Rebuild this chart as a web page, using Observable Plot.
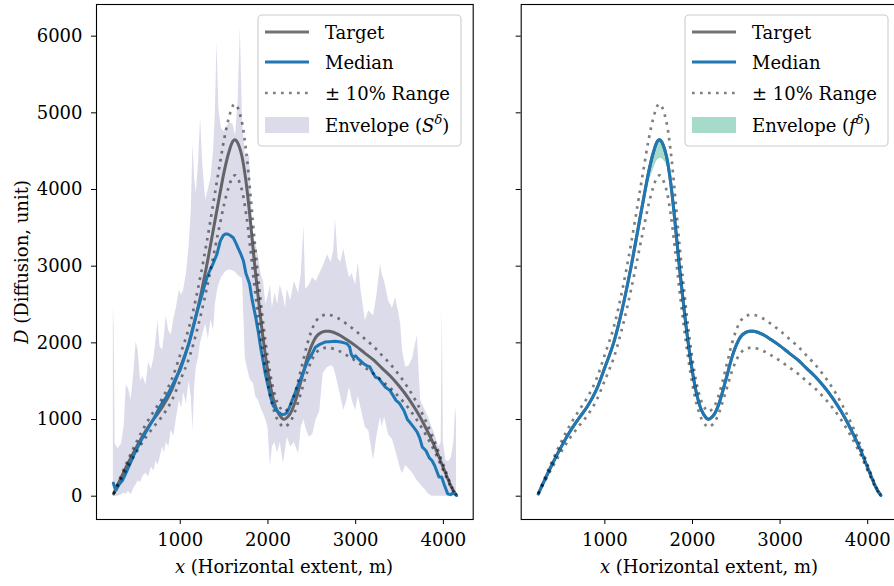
<!DOCTYPE html>
<html><head><meta charset="utf-8">
<script src="https://cdn.jsdelivr.net/npm/d3@7"></script>
<script src="https://cdn.jsdelivr.net/npm/@observablehq/plot@0.6"></script>
<style>
html,body{margin:0;padding:0;background:#fff;overflow:hidden;}
#wrap{position:relative;width:894px;height:586px;overflow:hidden;}
#wrap svg{position:absolute;top:0;}
</style></head><body><div id="wrap"></div>
<script>
const FONT = "'DejaVu Serif', 'Liberation Serif', 'Noto Serif', serif";
const FS = 18;
const xTicks = [1000, 2000, 3000, 4000];
const yTicks = [0, 1000, 2000, 3000, 4000, 5000, 6000];

const targetX = [240,300,400,500,600,700,800,900,1000,1100,1200,1300,1400,1450,1500,1550,1600,1625,1650,1700,1750,1800,1850,1900,1950,2000,2050,2100,2150,2175,2200,2250,2300,2350,2400,2450,2500,2550,2600,2650,2700,2800,2900,3000,3100,3200,3300,3400,3500,3600,3700,3800,3900,4000,4100,4150];
const targetY = [30,180,420,640,840,1010,1170,1380,1680,2000,2450,3000,3620,3930,4230,4470,4630,4650,4620,4450,4100,3580,3000,2480,2010,1620,1320,1130,1030,1005,1010,1070,1200,1390,1600,1810,1970,2080,2130,2150,2150,2110,2040,1960,1870,1780,1670,1560,1430,1280,1100,890,650,370,100,10];
const rangeUpperY = [33,198,462,704,924,1111,1287,1518,1848,2200,2695,3300,3982,4323,4653,4917,5093,5115,5082,4895,4510,3938,3300,2728,2211,1782,1452,1243,1133,1106,1111,1177,1320,1529,1760,1991,2167,2288,2343,2365,2365,2321,2244,2156,2057,1958,1837,1716,1573,1408,1210,979,715,407,110,11];
const rangeLowerY = [27,162,378,576,756,909,1053,1242,1512,1800,2205,2700,3258,3537,3807,4023,4167,4185,4158,4005,3690,3222,2700,2232,1809,1458,1188,1017,927,905,909,963,1080,1251,1440,1629,1773,1872,1917,1935,1935,1899,1836,1764,1683,1602,1503,1404,1287,1152,990,801,585,333,90,9];

const medianLeftX = [237,255,268,300,340,380,410,445,480,520,574,620,660,707,760,800,840,900,954,1000,1049,1100,1145,1190,1240,1270,1305,1340,1373,1419,1457,1490,1514,1540,1570,1605,1635,1662,1690,1720,1750,1790,1820,1860,1890,1916,1945,1970,2000,2030,2060,2085,2110,2140,2160,2190,2217,2245,2275,2310,2350,2390,2425,2460,2500,2540,2590,2650,2700,2770,2830,2870,2900,2930,2950,2970,3000,3030,3060,3100,3130,3160,3190,3227,3260,3300,3340,3390,3415,3460,3500,3550,3590,3620,3660,3700,3730,3760,3800,3840,3870,3900,3950,3980,4010,4050,4080,4110,4130,4150];
const medianLeftY = [170,110,80,150,205,300,380,466,560,650,770,860,940,1030,1150,1230,1290,1420,1552,1650,1813,2000,2204,2400,2595,2720,2856,2950,3030,3160,3330,3400,3420,3420,3400,3370,3300,3230,3160,3070,2900,2770,2560,2334,2140,1943,1760,1595,1440,1290,1180,1143,1100,1080,1065,1070,1090,1160,1248,1350,1470,1580,1682,1780,1850,1943,1980,2010,2015,2020,2010,2000,1990,1950,1850,1813,1830,1790,1760,1720,1700,1690,1620,1552,1540,1480,1420,1380,1335,1250,1210,1118,1000,960,900,840,760,640,596,500,466,400,250,250,150,30,20,40,30,10];

const envLeftX = [237,246,258,290,330,360,385,410,440,470,497,520,548,575,610,640,670,700,725,745,770,800,820,840,870,897,925,955,990,1015,1040,1070,1100,1125,1145,1163,1183,1208,1232,1255,1290,1320,1350,1380,1400,1419,1440,1470,1500,1530,1560,1600,1630,1660,1685,1710,1742,1770,1790,1810,1835,1860,1890,1920,1950,1975,2000,2028,2050,2080,2110,2140,2177,2200,2220,2260,2300,2350,2380,2410,2430,2470,2510,2550,2590,2630,2680,2720,2750,2770,2800,2830,2865,2900,2930,2960,3000,3030,3060,3110,3150,3204,3240,3284,3300,3330,3375,3420,3455,3490,3513,3535,3570,3610,3650,3703,3741,3780,3830,3870,3900,3950,3975,3988,4000,4030,4060,4090,4120,4140,4150];
const envLeftLo = [0,0,0,0,20,40,30,60,20,100,150,200,180,260,300,250,380,330,460,400,500,640,560,700,640,860,780,1000,1250,1150,1350,1200,1500,1300,860,1400,1680,1800,2000,2100,2250,2050,2300,2160,2500,2640,2750,2850,2900,2940,2950,2940,2920,2880,2860,2840,1800,1650,1550,1500,1470,1300,1250,1150,1075,1000,900,380,640,700,560,700,420,600,770,640,700,553,900,1000,900,770,800,1000,1100,1600,1680,1700,1680,1600,1450,1300,1118,1250,1420,1250,1118,1300,1150,900,850,466,770,1030,900,1030,800,740,600,450,350,292,400,350,300,200,150,100,30,0,0,0,0,0,0,0,0,0,0,0,0];
const envLeftHi = [2490,2200,680,620,680,900,1450,1400,1250,1600,2010,1900,1500,1560,1450,1750,1650,1800,2050,2290,1950,1900,2100,2350,2150,2100,2300,2450,2690,2620,2700,2900,3250,3700,4600,4150,3950,4350,4930,4350,3860,4000,4150,4500,5000,5920,5050,4800,4750,4820,4870,4850,4700,5150,6110,4900,4450,4420,4450,3900,3400,3300,3150,2900,2800,2500,2600,2750,2450,2650,2500,2750,2600,2450,2700,2550,2800,2650,2900,3530,2700,2750,2850,2800,2900,3000,3150,3050,3200,3615,3100,3050,3225,3000,2850,2900,2750,3050,2700,2290,2420,2350,2600,3030,2900,2800,2550,2450,2590,2400,2245,1900,1682,1700,1800,2095,1248,1150,1030,900,818,640,700,2465,700,466,450,500,700,1160,1000];

const medianRightY = [30,180,420,640,840,1010,1170,1380,1680,2000,2450,3000,3620,3930,4230,4470,4630,4650,4620,4450,4100,3580,3000,2480,2010,1620,1320,1130,1030,1005,1010,1070,1200,1390,1600,1810,1970,2080,2130,2150,2150,2110,2040,1960,1870,1780,1670,1560,1430,1280,1100,890,650,370,100,10];
const envRightHi = [40,195,435,655,855,1025,1185,1395,1695,2015,2465,3015,3635,3945,4245,4485,4645,4665,4635,4465,4115,3595,3015,2495,2025,1635,1335,1145,1045,1020,1025,1085,1215,1405,1615,1825,1985,2095,2145,2165,2165,2125,2055,1975,1885,1795,1685,1575,1445,1295,1115,905,665,385,115,20];
const envRightLo = [20,165,405,625,825,995,1155,1365,1665,1985,2430,2970,3560,3840,4080,4250,4380,4400,4400,4330,4060,3565,2985,2465,1995,1605,1305,1115,1015,990,995,1055,1185,1375,1585,1795,1955,2065,2115,2135,2135,2095,2025,1945,1855,1765,1655,1545,1415,1265,1085,875,635,355,85,0];

const targetRows = targetX.map((x, i) => ({x, y: targetY[i], up: rangeUpperY[i], lo: rangeLowerY[i]}));
const medLeftRows = medianLeftX.map((x, i) => ({x, y: medianLeftY[i]}));
const envLeftRows = envLeftX.map((x, i) => ({x, lo: envLeftLo[i], hi: envLeftHi[i]}));
const medRightRows = targetX.map((x, i) => ({x, y: medianRightY[i]}));
const envRightRows = targetX.map((x, i) => ({x, lo: envRightLo[i], hi: envRightHi[i]}));

const ENV_L = "#dcdbea", ENV_R = "#a6dbcb", BLUE = "#1f77b4";

function panel({width, ml, mr, env, envFill, envCurve, med, medCurve, showY}) {
  return Plot.plot({
    width, height: 586,
    marginLeft: ml, marginRight: mr, marginTop: 4, marginBottom: 67,
    x: {domain: [45, 4340]},
    y: {domain: [-304, 6413]},
    style: {fontFamily: FONT, fontSize: FS + "px", color: "black", background: "transparent", overflow: "visible"},
    marks: [
      Plot.areaY(env, {x: "x", y1: "lo", y2: "hi", fill: envFill, curve: envCurve}),
      Plot.line(targetRows, {x: "x", y: "y", stroke: "#000", strokeOpacity: 0.55, strokeWidth: 3, curve: "catmull-rom"}),
      Plot.line(med, {x: "x", y: "y", stroke: BLUE, strokeWidth: 3, curve: medCurve}),
      Plot.line(targetRows, {x: "x", y: "up", stroke: "#000", strokeOpacity: 0.5, strokeWidth: 2.7, strokeDasharray: "2.7,5.3", strokeLinecap: "butt", curve: "catmull-rom"}),
      Plot.line(targetRows, {x: "x", y: "lo", stroke: "#000", strokeOpacity: 0.5, strokeWidth: 2.7, strokeDasharray: "2.7,5.3", strokeLinecap: "butt", curve: "catmull-rom"}),
      Plot.axisX({ticks: xTicks, tickSize: 5, tickPadding: 9, label: null, tickFormat: d => String(d)}),
      Plot.axisY({ticks: yTicks, tickSize: 5, tickPadding: 9, label: null, tickFormat: showY ? (d => String(d)) : (() => "")}),
      Plot.frame({stroke: "black", strokeWidth: 1.1})
    ]
  });
}

function addLegend(svg, x0, envColor, envSym) {
  const g = d3.select(svg).append("g").attr("font-family", FONT).attr("font-size", FS)
    .attr("text-anchor", "start").attr("fill", "black");
  g.append("rect").attr("x", x0).attr("y", 15).attr("width", 203).attr("height", 131).attr("rx", 4)
    .attr("fill", "white").attr("fill-opacity", 0.8).attr("stroke", "#cccccc").attr("stroke-width", 1.1);
  const hx0 = x0 + 7, hx1 = x0 + 51, tx = x0 + 67;
  g.append("line").attr("x1", hx0).attr("x2", hx1).attr("y1", 32).attr("y2", 32).attr("stroke", "#000").attr("stroke-opacity", 0.55).attr("stroke-width", 3);
  g.append("line").attr("x1", hx0).attr("x2", hx1).attr("y1", 62).attr("y2", 62).attr("stroke", BLUE).attr("stroke-width", 3);
  g.append("line").attr("x1", hx0).attr("x2", hx1).attr("y1", 93).attr("y2", 93).attr("stroke", "#000").attr("stroke-opacity", 0.5).attr("stroke-width", 2.7).attr("stroke-dasharray", "2.7,5.3");
  g.append("rect").attr("x", hx0).attr("y", 117).attr("width", hx1 - hx0).attr("height", 16).attr("fill", envColor);
  g.append("text").attr("x", tx).attr("y", 39).text("Target");
  g.append("text").attr("x", tx).attr("y", 69).text("Median");
  g.append("text").attr("x", tx).attr("y", 100).text("\u00B1 10% Range");
  const t = g.append("text").attr("x", tx).attr("y", 132);
  t.append("tspan").text("Envelope (");
  t.append("tspan").attr("font-style", "italic").text(envSym);
  t.append("tspan").attr("font-style", "italic").attr("font-size", 13).attr("dy", -8).text("\u03B4");
  t.append("tspan").attr("dy", 8).text(")");
}

function addXLabel(svg, cx) {
  const t = d3.select(svg).append("text").attr("font-family", FONT).attr("font-size", FS)
    .attr("x", cx).attr("y", 573).attr("text-anchor", "middle").attr("fill", "black");
  t.append("tspan").attr("font-style", "italic").text("x");
  t.append("tspan").text(" (Horizontal extent, m)");
}

const wrap = document.getElementById("wrap");
const left = panel({width: 480, ml: 96, mr: 7.3, env: envLeftRows, envFill: ENV_L, envCurve: "linear", med: medLeftRows, medCurve: "linear", showY: true});
left.style.left = "0px";
wrap.appendChild(left);
addLegend(left, 258, ENV_L, "S");
addXLabel(left, 284);
{
  const t = d3.select(left).append("text").attr("font-family", FONT).attr("font-size", FS)
    .attr("transform", "translate(28,262) rotate(-90)").attr("text-anchor", "middle").attr("fill", "black");
  t.append("tspan").attr("font-style", "italic").text("D");
  t.append("tspan").text(" (Diffusion, unit)");
}

const right = panel({width: 418, ml: 40.7, mr: 1, env: envRightRows, envFill: ENV_R, envCurve: "catmull-rom", med: medRightRows, medCurve: "catmull-rom", showY: false});
right.style.left = "480px";
wrap.appendChild(right);
addLegend(right, 205, ENV_R, "f");
addXLabel(right, 229);
</script></body></html>
